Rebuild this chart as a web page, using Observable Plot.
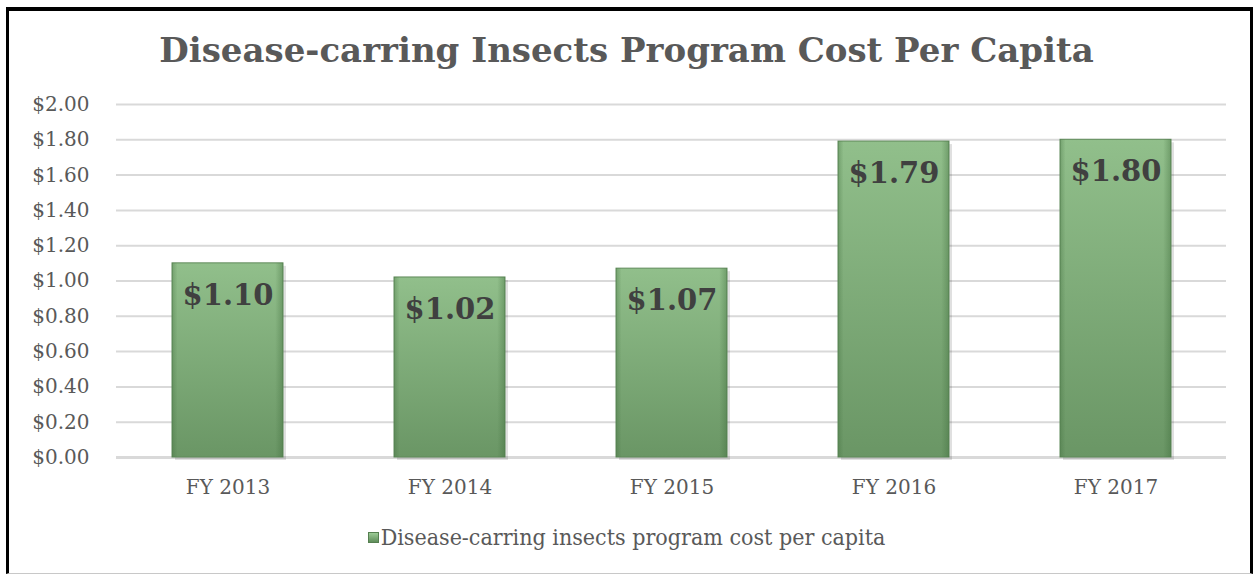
<!DOCTYPE html>
<html>
<head>
<meta charset="utf-8">
<script src="https://cdn.jsdelivr.net/npm/d3@7"></script>
<script src="https://cdn.jsdelivr.net/npm/@observablehq/plot@0.6"></script>
<style>
  html, body { margin: 0; padding: 0; background: #fff; }
  #frame { position: relative; width: 1253px; height: 574px; overflow: hidden; background: #fff; }
  #border { position: absolute; left: 6px; top: 7px; width: 1241px; height: 562px;
            border-left: 3px solid #000; border-top: 4px solid #000; border-right: 3px solid #000; border-bottom: 1px solid #c8c8c8; box-sizing: content-box; }
  #title { position: absolute; left: 0; width: 1253px; top: 30px; text-align: center;
           font-family: "DejaVu Serif", serif; font-weight: bold; font-size: 34px; color: #595959; }
  #chart { position: absolute; left: 0; top: 80px; }
  #legend { position: absolute; left: 0; width: 1253px; top: 524px; text-align: center;
            font-family: "DejaVu Serif Condensed", "DejaVu Serif", serif; font-size: 23px; color: #595959; }
  #legend .sw { display: inline-block; width: 11px; height: 11px; margin-right: 2px; vertical-align: 2px;
                background: linear-gradient(#9ccb96, #5f8d5a); border: 1px solid #557f50; box-sizing: border-box; }
</style>
</head>
<body>
<div id="frame">
  <div id="border"></div>
  <div id="title">Disease-carring Insects Program Cost Per Capita</div>
  <div id="chart"></div>
  <div id="legend"><span class="sw"></span>Disease-carring insects program cost per capita</div>
</div>
<script>
const years = ["FY 2013", "FY 2014", "FY 2015", "FY 2016", "FY 2017"];
const costs = [1.10, 1.02, 1.07, 1.79, 1.80];
const yTicks = [0, 0.2, 0.4, 0.6, 0.8, 1.0, 1.2, 1.4, 1.6, 1.8, 2.0];

const data = years.map((y, i) => ({year: y, cost: costs[i]}));
const fmt = v => "$" + v.toFixed(2);

const plot = Plot.plot({
  width: 1253,
  height: 422,
  marginLeft: 116,
  marginRight: 27,
  marginTop: 24,
  marginBottom: 45,
  style: {fontFamily: "'DejaVu Serif', serif", fontSize: "20px", color: "#595959", background: "transparent"},
  x: {domain: years, paddingInner: 0.5, paddingOuter: 0.25, label: null, tickSize: 0, tickPadding: 22},
  y: {domain: [0, 2], ticks: yTicks, tickFormat: fmt, label: null, tickSize: 0, tickPadding: 27},
  marks: [
    Plot.gridY(yTicks, {stroke: "#d9d9d9", strokeOpacity: 1, strokeWidth: 2}),
    Plot.ruleY([0], {stroke: "#d9d9d9", strokeWidth: 3}),
    Plot.barY(data, {x: "year", y: "cost", fill: "#000", fillOpacity: 0.12, dx: 3, dy: 3}),
    Plot.barY(data, {x: "year", y: "cost", fill: "url(#barGrad)", stroke: "#5f8a5a", strokeWidth: 1}),
    Plot.barY(data, {x: "year", y: "cost", fill: "url(#bevelGrad)"}),
    Plot.text(data, {x: "year", y: "cost", text: d => fmt(d.cost), dy: 32,
      fill: "#404040", fontWeight: "bold", fontSize: 29, fontFamily: "'DejaVu Serif', serif"})
  ]
});

const svg = d3.select(plot);
const defs = svg.insert("defs", ":first-child");
const g = defs.append("linearGradient").attr("id", "barGrad").attr("x1", 0).attr("y1", 0).attr("x2", 0).attr("y2", 1);
g.append("stop").attr("offset", "0%").attr("stop-color", "#91bf8b");
g.append("stop").attr("offset", "100%").attr("stop-color", "#6a9665");
const b = defs.append("linearGradient").attr("id", "bevelGrad").attr("x1", 0).attr("y1", 0).attr("x2", 1).attr("y2", 0);
b.append("stop").attr("offset", "0%").attr("stop-color", "#3e6b3a").attr("stop-opacity", 0.35);
b.append("stop").attr("offset", "5%").attr("stop-color", "#3e6b3a").attr("stop-opacity", 0.0);
b.append("stop").attr("offset", "93%").attr("stop-color", "#3e6b3a").attr("stop-opacity", 0.0);
b.append("stop").attr("offset", "100%").attr("stop-color", "#3e6b3a").attr("stop-opacity", 0.4);

svg.selectAll("[aria-label='y-axis tick label'] text, [aria-label='x-axis tick label'] text").attr("fill", "#595959");
document.getElementById("chart").appendChild(plot);
</script>
</body>
</html>
